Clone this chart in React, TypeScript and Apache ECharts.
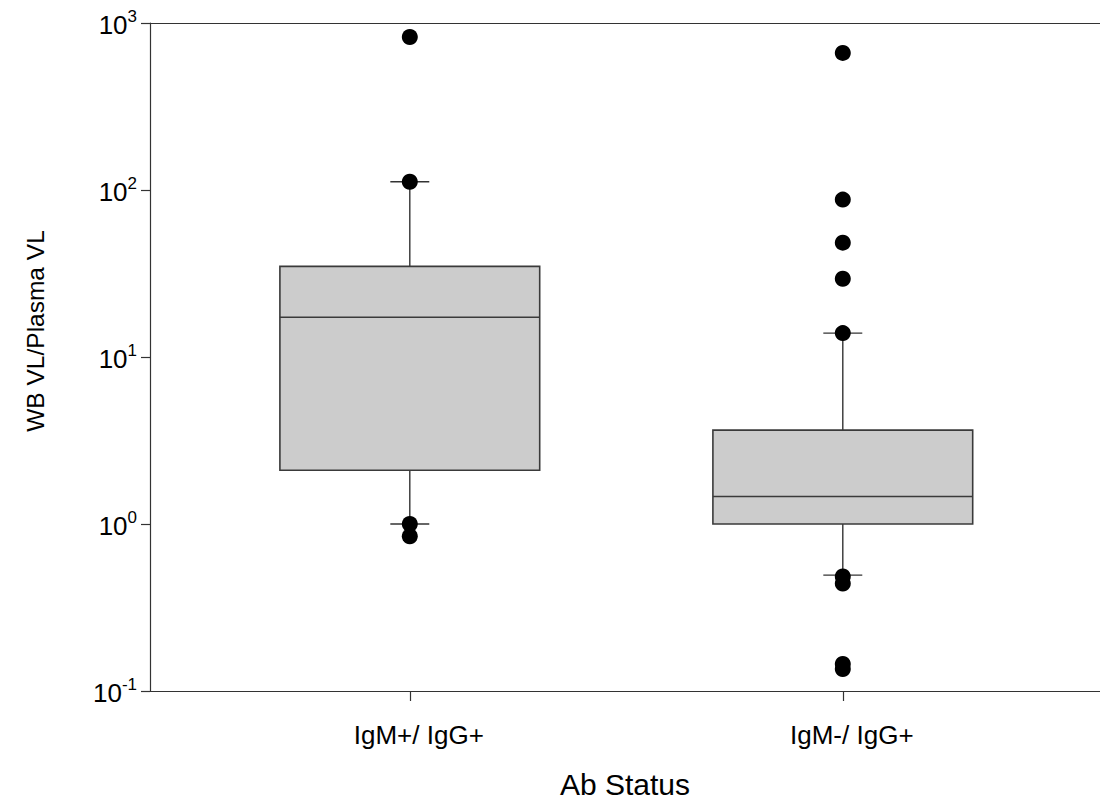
import React, { useEffect, useRef } from "react";
import * as echarts from "echarts";

const categories = ["IgM+/ IgG+", "IgM-/ IgG+"];
const positions = [1, 2];
const lowerWhisker = [1.0, 0.494];
const q1 = [2.1, 1.0];
const median = [17.3, 1.46];
const q3 = [34.9, 3.65];
const upperWhisker = [112, 13.9];
const outliersGroup1 = [825, 112, 1.0, 0.845];
const outliersGroup2 = [662, 87.6, 48.4, 29.4, 13.9, 0.485, 0.44, 0.145, 0.1355];
const yTickExponents = [-1, 0, 1, 2, 3];

const FONT = "Liberation Sans, Arial, Helvetica, sans-serif";

export default function App() {
  const ref = useRef<HTMLDivElement>(null);

  useEffect(() => {
    if (!ref.current) return;
    const chart = echarts.init(ref.current, null, { renderer: "svg" });

    const boxData = positions.map((p, i) => [
      p,
      lowerWhisker[i],
      q1[i],
      median[i],
      q3[i],
      upperWhisker[i],
    ]);
    const pointData: number[][] = [];
    outliersGroup1.forEach((v) => pointData.push([positions[0], v]));
    outliersGroup2.forEach((v) => pointData.push([positions[1], v]));

    const lineColor = "#333333";
    const xMin = 0.4;
    const xMax = 2.594;

    const option: any = {
      animation: false,
      backgroundColor: "#ffffff",
      grid: { left: 150, right: 0, top: 23, bottom: 112, containLabel: false },
      xAxis: [
        {
          type: "value",
          min: xMin,
          max: xMax,
          position: "bottom",
          name: "Ab Status",
          nameLocation: "middle",
          nameGap: 78,
          nameTextStyle: { fontFamily: FONT, fontSize: 30, color: "#000" },
          axisLine: { show: true, lineStyle: { color: lineColor, width: 1.2 } },
          axisTick: {
            show: true,
            length: 10,
            customValues: positions,
            lineStyle: { color: lineColor, width: 1.2 },
          },
          axisLabel: {
            customValues: positions,
            formatter: (v: number) => categories[Math.round(v) - 1] ?? "",
            fontFamily: FONT,
            fontSize: 26,
            color: "#000",
            margin: 31,
            padding: [0, 0, 0, 18],
          },
          splitLine: { show: false },
        },
        {
          type: "value",
          min: xMin,
          max: xMax,
          position: "top",
          axisLine: { show: true, lineStyle: { color: lineColor, width: 1.2 } },
          axisTick: { show: false },
          axisLabel: { show: false },
          splitLine: { show: false },
        },
      ],
      yAxis: {
        type: "log",
        logBase: 10,
        min: 0.1,
        max: 1000,
        axisLine: { show: true, lineStyle: { color: lineColor, width: 1.2 } },
        axisTick: { show: true, length: 9, inside: false, lineStyle: { color: lineColor, width: 1.2 } },
        minorTick: { show: false },
        splitLine: { show: false },
        axisLabel: {
          margin: 13,
          formatter: (v: number) => {
            const e = Math.round(Math.log10(v));
            if (!yTickExponents.includes(e)) return "";
            return "{b|10}{s|" + e + "}";
          },
          rich: {
            b: { fontFamily: FONT, fontSize: 26, color: "#000", verticalAlign: "bottom", lineHeight: 30 },
            s: { fontFamily: FONT, fontSize: 17, color: "#000", verticalAlign: "top", lineHeight: 30 },
          },
        },
      },
      graphic: [
        {
          type: "text",
          x: 35,
          y: 331,
          rotation: Math.PI / 2,
          style: {
            text: "WB VL/Plasma VL",
            fontFamily: FONT,
            fontSize: 24.5,
            fill: "#000",
            align: "center",
            verticalAlign: "middle",
          },
        },
      ],
      series: [
        {
          type: "custom",
          xAxisIndex: 0,
          yAxisIndex: 0,
          data: boxData,
          z: 2,
          renderItem: (params: any, api: any) => {
            const x = api.value(0);
            const lo = api.coord([x, api.value(1)]);
            const b1 = api.coord([x, api.value(2)]);
            const md = api.coord([x, api.value(3)]);
            const b3 = api.coord([x, api.value(4)]);
            const hi = api.coord([x, api.value(5)]);
            const left = api.coord([x - 0.3, api.value(3)])[0];
            const right = api.coord([x + 0.3, api.value(3)])[0];
            const capL = api.coord([x - 0.045, api.value(3)])[0];
            const capR = api.coord([x + 0.045, api.value(3)])[0];
            const cx = lo[0];
            const ls = { stroke: lineColor, lineWidth: 1.4 };
            return {
              type: "group",
              children: [
                { type: "line", shape: { x1: cx, y1: b3[1], x2: cx, y2: hi[1] }, style: ls },
                { type: "line", shape: { x1: cx, y1: b1[1], x2: cx, y2: lo[1] }, style: ls },
                { type: "line", shape: { x1: capL, y1: hi[1], x2: capR, y2: hi[1] }, style: ls },
                { type: "line", shape: { x1: capL, y1: lo[1], x2: capR, y2: lo[1] }, style: ls },
                {
                  type: "rect",
                  shape: { x: left, y: b3[1], width: right - left, height: b1[1] - b3[1] },
                  style: { fill: "#cccccc", stroke: "#3a3a3a", lineWidth: 1.6 },
                },
                { type: "line", shape: { x1: left, y1: md[1], x2: right, y2: md[1] }, style: { stroke: "#3a3a3a", lineWidth: 1.6 } },
              ],
            };
          },
        },
        {
          type: "scatter",
          xAxisIndex: 0,
          yAxisIndex: 0,
          data: pointData,
          symbol: "circle",
          symbolSize: 16,
          z: 3,
          itemStyle: { color: "#000000", opacity: 1 },
        },
      ],
    };

    chart.setOption(option);
    return () => chart.dispose();
  }, []);

  return (
    <div
      ref={ref}
      style={{ position: "fixed", left: 0, top: 0, width: 1100, height: 804, background: "#fff" }}
    />
  );
}
